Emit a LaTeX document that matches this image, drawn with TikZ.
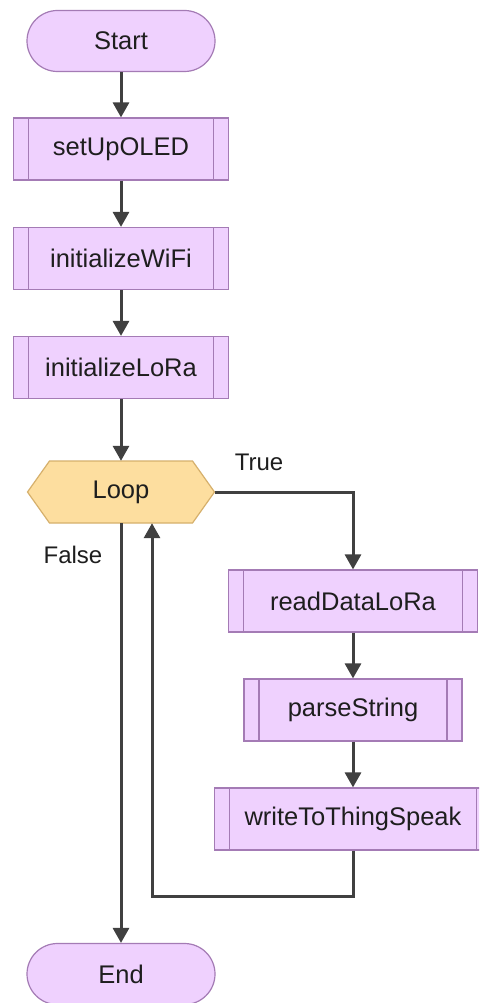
\documentclass[tikz,border=0pt]{standalone}
\usepackage{fontspec}
\setmainfont{Liberation Sans}
\usetikzlibrary{arrows.meta,calc}
\definecolor{pfill}{HTML}{EFD1FE}
\definecolor{pline}{HTML}{A47BB5}
\definecolor{hfill}{HTML}{FDDE9F}
\definecolor{hline}{HTML}{D6B06C}
\definecolor{aline}{HTML}{404040}
\definecolor{tcol}{HTML}{1E1E1E}
\begin{document}
\begin{tikzpicture}[x=1pt,y=-1pt,
  every node/.style={font=\fontsize{25.5}{29}\selectfont, text=tcol},
  term/.style={draw=pline, fill=pfill, line width=1.2pt, rounded corners=30.5pt,
    minimum width=188pt, minimum height=61pt, inner sep=0pt},
  proc/.style={draw=pline, fill=pfill, line width=1.2pt,
    minimum height=62pt, inner sep=0pt,
    path picture={
      \draw[pline, line width=1.2pt]
        ([xshift=15pt]path picture bounding box.north west) --
        ([xshift=15pt]path picture bounding box.south west)
        ([xshift=-15pt]path picture bounding box.north east) --
        ([xshift=-15pt]path picture bounding box.south east);}},
  hexshape/.style={draw=hline, fill=hfill, line width=1.2pt, line join=miter},
  arr/.style={draw=aline, line width=3pt, -{Triangle[length=15pt,width=16pt]}},
  lbl/.style={font=\fontsize{24}{28}\selectfont, text=tcol, inner sep=0pt}
]
\clip (0,0) rectangle (479,1003);
\fill[white] (0,0) rectangle (479,1003);

% left column
\node[term] (start) at (121,41) {Start};
\node[proc, minimum width=215pt] (oled) at (121,149) {setUpOLED};
\node[proc, minimum width=215pt] (wifi) at (121,258.5) {initializeWiFi};
\node[proc, minimum width=215pt] (lora) at (121,367.5) {initializeLoRa};

% loop hexagon
\coordinate (lc) at (121,492);
\draw[hexshape] ($(lc)+(-71.5,-31)$) -- ($(lc)+(71.5,-31)$) -- ($(lc)+(93.5,0)$)
  -- ($(lc)+(71.5,31)$) -- ($(lc)+(-71.5,31)$) -- ($(lc)+(-93.5,0)$) -- cycle;
\node[minimum width=187pt, minimum height=62pt, inner sep=0pt] (loop) at (lc) {Loop};

% right column
\node[proc, minimum width=249pt] (read) at (353,601) {readDataLoRa};
\node[proc, minimum width=218pt] (parse) at (353,710) {parseString};
\node[proc, minimum width=277pt] (write) at (353,819) {writeToThingSpeak};

\node[term] (end) at (121,974) {End};

% labels
\node[lbl] (tlab) at (259,462) {True};
\node[lbl] (flab) at (73,555) {False};

% connectors
\draw[arr] (start.south) -- (oled.north);
\draw[arr] (oled.south) -- (wifi.north);
\draw[arr] (wifi.south) -- (lora.north);
\draw[arr] (lora.south) -- (loop.north);
\draw[arr] (loop.east) -| (read.north);
\draw[arr] (read.south) -- (parse.north);
\draw[arr] (parse.south) -- (write.north);
\coordinate (bk) at (152,896);
\draw[arr] (write.south) |- (bk) -- ([xshift=31pt]loop.south);
\draw[arr] (loop.south) -- (end.north);
\end{tikzpicture}
\end{document}
